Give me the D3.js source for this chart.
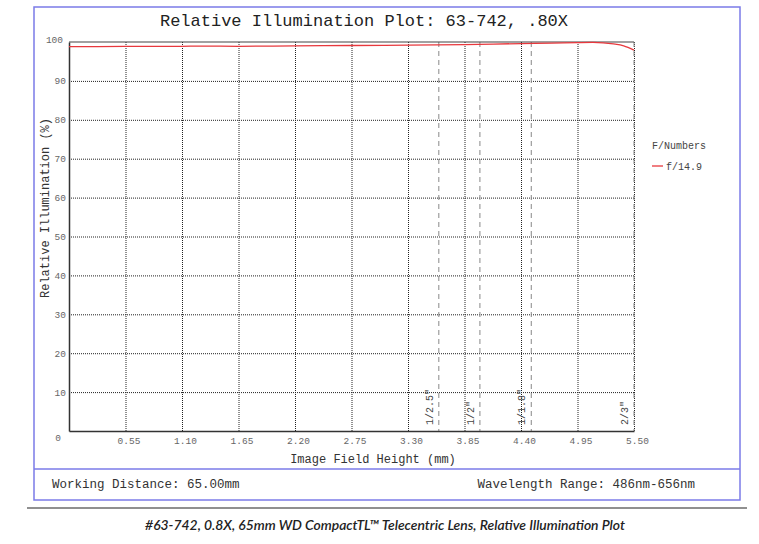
<!DOCTYPE html>
<html>
<head>
<meta charset="utf-8">
<script src="https://cdn.jsdelivr.net/npm/d3@7"></script>
<style>
  html, body { margin: 0; padding: 0; background: #fff; }
  svg { display: block; }
</style>
</head>
<body>
<svg id="chart" width="759" height="544"></svg>
<script>
// ---- Data ----
const fieldHeight = [0, 0.55, 1.1, 1.3, 1.65, 2.2, 2.75, 3.3, 3.85, 4.4, 4.7, 4.95, 5.1, 5.2, 5.3, 5.4, 5.5];
const illumination = [98.8, 98.85, 98.9, 98.95, 98.9, 99.0, 99.1, 99.2, 99.35, 99.6, 99.7, 99.85, 99.9, 99.8, 99.5, 99.0, 97.9];
const xTicks = [0.55, 1.10, 1.65, 2.20, 2.75, 3.30, 3.85, 4.40, 4.95, 5.50];
const yTicks = [0, 10, 20, 30, 40, 50, 60, 70, 80, 90, 100];
const sensorNames = ['1/2.5"', '1/2"', '1/1.8"', '2/3"'];
const sensorHalfDiag = [3.6, 4.0, 4.5, 5.5];
const seriesName = "f/14.9";
const legendTitle = "F/Numbers";
const titleText = "Relative Illumination Plot: 63-742, .80X";
const xTitle = "Image Field Height (mm)";
const yTitle = "Relative Illumination (%)";
const footLeft = "Working Distance: 65.00mm";
const footRight = "Wavelength Range: 486nm-656nm";
const caption = "#63-742, 0.8X, 65mm WD CompactTL\u2122 Telecentric Lens, Relative Illumination Plot";

// ---- Layout ----
const svg = d3.select("#chart");
const mono = "'Liberation Mono', 'Courier New', monospace";
const plot = { left: 69, top: 42, right: 634, bottom: 431 };
const frameBlue = "#7b7be8";

const x = d3.scaleLinear().domain([0, 5.5]).range([plot.left, plot.right]);
const y = d3.scaleLinear().domain([0, 100]).range([plot.bottom, plot.top]);

// outer frame
svg.append("rect").attr("x", 34).attr("y", 7).attr("width", 706).attr("height", 493)
  .attr("fill", "none").attr("stroke", frameBlue).attr("stroke-width", 1.5);
svg.append("line").attr("x1", 34).attr("x2", 740).attr("y1", 469).attr("y2", 469)
  .attr("stroke", frameBlue).attr("stroke-width", 1.5);
svg.append("line").attr("x1", 27).attr("x2", 747).attr("y1", 508).attr("y2", 508)
  .attr("stroke", "#222").attr("stroke-width", 1.2);

// title
svg.append("text").attr("x", 364).attr("y", 26).attr("text-anchor", "middle")
  .attr("font-family", mono).attr("font-size", 17).attr("fill", "#222").text(titleText);

// grid via axes
const xGrid = svg.append("g").attr("transform", `translate(0,${plot.bottom})`)
  .call(d3.axisBottom(x).tickValues(xTicks).tickSize(-(plot.bottom - plot.top)).tickFormat(""));
xGrid.select(".domain").remove();
xGrid.selectAll("line").attr("stroke", "#222").attr("stroke-dasharray", "1,1");

const yGrid = svg.append("g").attr("transform", `translate(${plot.left},0)`)
  .call(d3.axisLeft(y).tickValues(yTicks.filter(d => d > 0 && d < 100)).tickSize(-(plot.right - plot.left)).tickFormat(""));
yGrid.select(".domain").remove();
yGrid.selectAll("line").attr("stroke", "#222").attr("stroke-dasharray", "1,1");

// sensor lines
const sens = svg.append("g");
sens.selectAll("line").data(sensorHalfDiag).join("line")
  .attr("x1", d => x(d)).attr("x2", d => x(d))
  .attr("y1", plot.top).attr("y2", plot.bottom)
  .attr("stroke", "#888").attr("stroke-dasharray", "5,4");
sens.selectAll("text").data(sensorNames).join("text")
  .attr("transform", (d, i) => `translate(${x(sensorHalfDiag[i]) - 6},${plot.bottom - 6}) rotate(-90)`)
  .attr("font-family", mono).attr("font-size", 10).attr("fill", "#444").text(d => d);

// plot frame
svg.append("line").attr("x1", plot.left).attr("x2", plot.right).attr("y1", plot.top).attr("y2", plot.top)
  .attr("stroke", "#444").attr("stroke-width", 1.2);

// axes with labels
const xAxis = svg.append("g").attr("transform", `translate(0,${plot.bottom})`)
  .call(d3.axisBottom(x).tickValues(xTicks).tickSize(0).tickPadding(6).tickFormat(d3.format(".2f")));
xAxis.select(".domain").attr("stroke", "#333").attr("stroke-width", 1.5);
xAxis.selectAll("text").attr("font-family", mono).attr("font-size", 9.5).attr("fill", "#666").attr("dx", 3);

const yAxis = svg.append("g").attr("transform", `translate(${plot.left},0)`)
  .call(d3.axisLeft(y).tickValues(yTicks).tickSize(0).tickPadding(3));
yAxis.select(".domain").attr("stroke", "#333").attr("stroke-width", 1.5);
yAxis.selectAll("text").attr("font-family", mono).attr("font-size", 9.5).attr("fill", "#666");
yAxis.selectAll(".tick").filter(d => d === 100).select("text").attr("dx", -3).attr("dy", "0.05em");
yAxis.selectAll(".tick").filter(d => d === 0).select("text").attr("dx", -5).attr("dy", "1.05em");

// axis titles
svg.append("text").attr("x", 373).attr("y", 463).attr("text-anchor", "middle")
  .attr("font-family", mono).attr("font-size", 12).attr("fill", "#333").text(xTitle);
svg.append("text").attr("transform", "translate(49,208) rotate(-90)").attr("text-anchor", "middle")
  .attr("font-family", mono).attr("font-size", 12).attr("fill", "#333").text(yTitle);

// curve
const line = d3.line().x((d, i) => x(fieldHeight[i])).y(d => y(d)).curve(d3.curveMonotoneX);
svg.append("path").datum(illumination).attr("d", line)
  .attr("fill", "none").attr("stroke", "#e8383d").attr("stroke-width", 1.3);

// legend
svg.append("text").attr("x", 652).attr("y", 149).attr("font-family", mono).attr("font-size", 10)
  .attr("fill", "#444").text(legendTitle);
svg.append("line").attr("x1", 652).attr("x2", 663).attr("y1", 166).attr("y2", 166)
  .attr("stroke", "#e8383d").attr("stroke-width", 1.3);
svg.append("text").attr("x", 666).attr("y", 169.5).attr("font-family", mono).attr("font-size", 10)
  .attr("fill", "#444").text(seriesName);

// footer
svg.append("text").attr("x", 52).attr("y", 488).attr("font-family", mono).attr("font-size", 12.5)
  .attr("fill", "#333").text(footLeft);
svg.append("text").attr("x", 695).attr("y", 488).attr("text-anchor", "end").attr("font-family", mono).attr("font-size", 12.5)
  .attr("fill", "#333").text(footRight);

// caption
svg.append("text").attr("x", 385).attr("y", 530).attr("text-anchor", "middle")
  .attr("font-family", "Lato, 'Open Sans', sans-serif").attr("font-style", "italic").attr("font-weight", 600)
  .attr("font-size", 13.9).attr("fill", "#222").text(caption);
</script>
</body>
</html>
